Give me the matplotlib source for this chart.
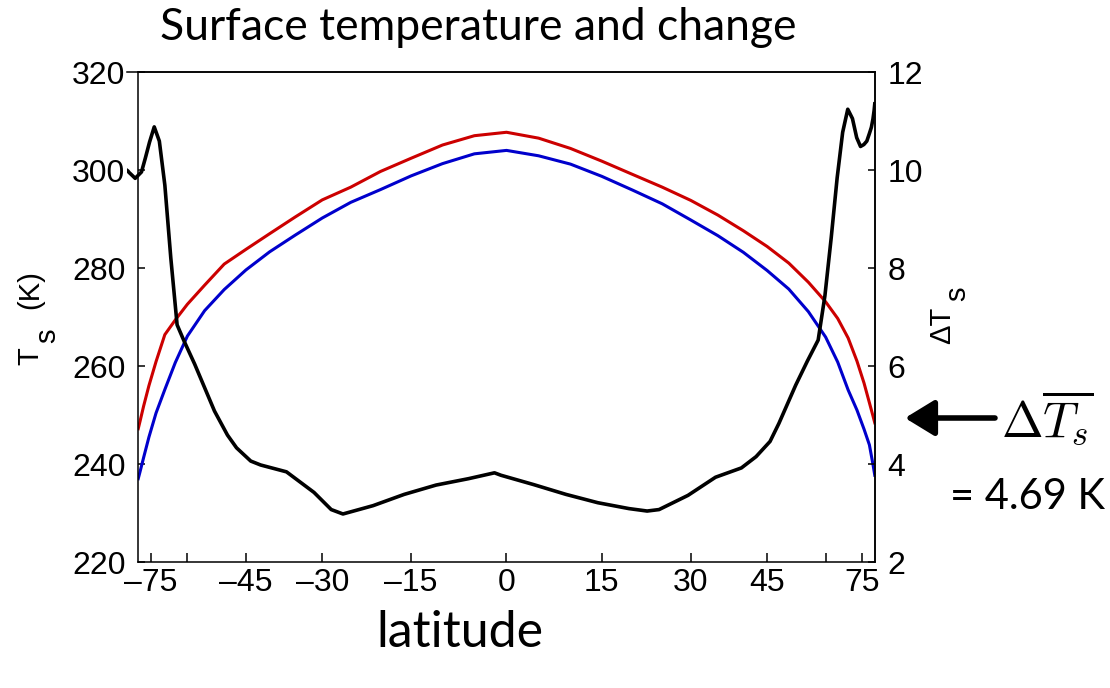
import numpy as np
import matplotlib.pyplot as plt
from matplotlib.ticker import FixedLocator, NullLocator

# latitude grid for the two temperature curves (deg)
lat_T = [-88, -84, -80, -76, -72, -68, -64, -60, -55, -50, -45, -40, -35, -30,
         -25, -20, -15, -10, -5, 0, 5, 10, 15, 20, 25, 30, 35, 40, 45, 50, 55,
         60, 64, 68, 72, 76, 80, 84, 88]
# warmer climate (red) and control (blue), K
T_warm = [247.2, 248.7, 251.8, 256.0, 260.9, 266.4, 269.4, 272.6, 276.5, 280.8,
          283.8, 287.0, 290.4, 293.9, 296.5, 299.7, 302.4, 305.1, 307.0, 307.7,
          306.5, 304.4, 301.8, 299.1, 296.5, 293.8, 290.8, 287.6, 284.4, 281.0,
          277.1, 273.1, 269.7, 265.7, 261.0, 256.5, 252.5, 249.8, 248.4]
T_ctrl = [237.0, 238.4, 241.3, 245.5, 250.4, 255.2, 260.7, 266.1, 271.3, 275.6,
          279.6, 283.3, 286.7, 290.2, 293.4, 296.0, 298.8, 301.3, 303.3, 304.0,
          302.9, 301.2, 298.7, 295.9, 293.1, 289.8, 286.6, 283.2, 279.5, 275.7,
          271.1, 265.9, 260.8, 255.1, 251.0, 247.1, 243.9, 239.9, 237.7]

# change in surface temperature (black, right axis)
lat_dT = [-88, -86, -84, -82, -80, -78, -76, -74, -72, -70, -68, -66, -64, -62,
          -60, -58, -55, -50, -47, -45, -42, -40, -35, -30, -27, -25, -20, -15,
          -10, -5, -1, 0, 5, 10, 15, 20, 23, 25, 30, 35, 40, 43, 46, 48, 52, 55,
          58, 60, 62, 64, 66, 68, 70, 72, 74, 76, 78, 80, 82, 84, 86, 88]
dT = [9.99, 9.98, 9.95, 9.92, 9.88, 9.83, 9.89, 9.96, 10.24, 10.57, 10.88,
      10.59, 9.69, 8.21, 6.84, 6.52, 6.04, 5.08, 4.59, 4.33, 4.06, 3.98, 3.84,
      3.42, 3.07, 2.98, 3.15, 3.38, 3.57, 3.70, 3.82, 3.77, 3.58, 3.38, 3.21,
      3.09, 3.04, 3.07, 3.36, 3.73, 3.92, 4.15, 4.46, 4.83, 5.61, 6.10, 6.53,
      7.43, 8.62, 9.84, 10.77, 11.24, 11.05, 10.66, 10.48, 10.52, 10.59, 10.74,
      10.87, 11.04, 11.21, 11.35]

x_ticks = [-75, -60, -45, -30, -15, 0, 15, 30, 45, 60, 75]
x_labels = ['–75', '', '–45', '–30', '–15', '0', '15', '30', '45', '', '75']
T_ticks = [220, 240, 260, 280, 300, 320]
dT_ticks = [2, 4, 6, 8, 10, 12]


# x axis is area weighted: sin(latitude)
def to_sin(lat):
    return np.sin(np.deg2rad(lat))


def from_sin(s):
    return np.rad2deg(np.arcsin(np.clip(s, -1, 1)))


plt.rcParams['mathtext.fontset'] = 'cm'
tick_font = ['Liberation Sans', 'DejaVu Sans']
label_font = ['Liberation Sans', 'DejaVu Sans']
title_font = ['Lato', 'DejaVu Sans']

W, H = 1110, 688
fig = plt.figure(figsize=(W / 100, H / 100), dpi=100)

# main axes: temperatures
ax = fig.add_axes([138 / W, 1 - 562 / H, 737 / W, 490 / H])
ax.set_xscale('function', functions=(to_sin, from_sin))
ax.plot(lat_T, T_ctrl, color='#0000cc', lw=2.2)
ax.plot(lat_T, T_warm, color='#cc0000', lw=2.2)
ax.set_xlim(-90, 90)
ax.set_ylim(220, 320)
ax.xaxis.set_major_locator(FixedLocator(x_ticks))
ax.xaxis.set_minor_locator(NullLocator())
ax.set_xticklabels(x_labels)
ax.set_yticks(T_ticks)
ax.tick_params(direction='in', length=5, width=1.1, labelsize=23, pad=9)
ax.tick_params(axis='x', length=6.5, pad=4)
for lab in ax.get_xticklabels() + ax.get_yticklabels():
    lab.set_family(tick_font)
for sp in ax.spines.values():
    sp.set_linewidth(1.1)

# second axes for the change, slightly wider frame
ax2 = fig.add_axes([127 / W, 1 - 562 / H, 748 / W, 490 / H])
ax2.patch.set_visible(False)
ax2.set_xscale('function', functions=(to_sin, from_sin))
ax2.plot(lat_dT, dT, color='k', lw=2.6)
ax2.set_xlim(-90, 90)
ax2.set_ylim(2, 12)
ax2.spines['left'].set_visible(False)
ax2.spines['bottom'].set_visible(False)
ax2.spines['top'].set_linewidth(1.1)
ax2.spines['right'].set_linewidth(1.1)
ax2.xaxis.set_visible(False)
ax2.yaxis.tick_right()
ax2.set_yticks(dT_ticks)
ax2.tick_params(direction='in', length=5, width=1.1, labelsize=23, pad=9)
for lab in ax2.get_yticklabels():
    lab.set_family(tick_font)

# axis labels, subscript drawn full size and lowered as in the original
lab_kw = dict(rotation=90, rotation_mode='anchor', ha='center', va='baseline',
              fontsize=21, family=label_font)
fig.text(38 / W, 1 - 356 / H, 'T', **lab_kw)
fig.text(55 / W, 1 - 336 / H, 's', **lab_kw)
fig.text(38 / W, 1 - 290 / H, '(K)', **lab_kw)
fig.text(950 / W, 1 - 325 / H, 'ΔT', **lab_kw)
fig.text(965 / W, 1 - 294 / H, 's', **lab_kw)

fig.text(478 / W, 1 - 28 / H, 'Surface temperature and change',
         ha='center', va='center', fontsize=32, family=title_font)
fig.text(460 / W, 1 - 633 / H, 'latitude', ha='center', va='center',
         fontsize=36, family=title_font)

# global mean annotation
fig.text(1047 / W, 1 - 418 / H, r'$\Delta\overline{T_s}$', ha='center',
         va='center', fontsize=36)
fig.text(1028 / W, 1 - 497 / H, '= 4.69 K', ha='center', va='center',
         fontsize=30, family=title_font)
ax.annotate('', xy=(905, H - 418), xytext=(995, H - 418),
            xycoords='figure pixels', textcoords='figure pixels',
            annotation_clip=False,
            arrowprops=dict(arrowstyle='-|>,head_length=0.9,head_width=0.55',
                            mutation_scale=20, lw=4, color='k',
                            shrinkA=0, shrinkB=0))

fig.savefig('out.png', dpi=100)
